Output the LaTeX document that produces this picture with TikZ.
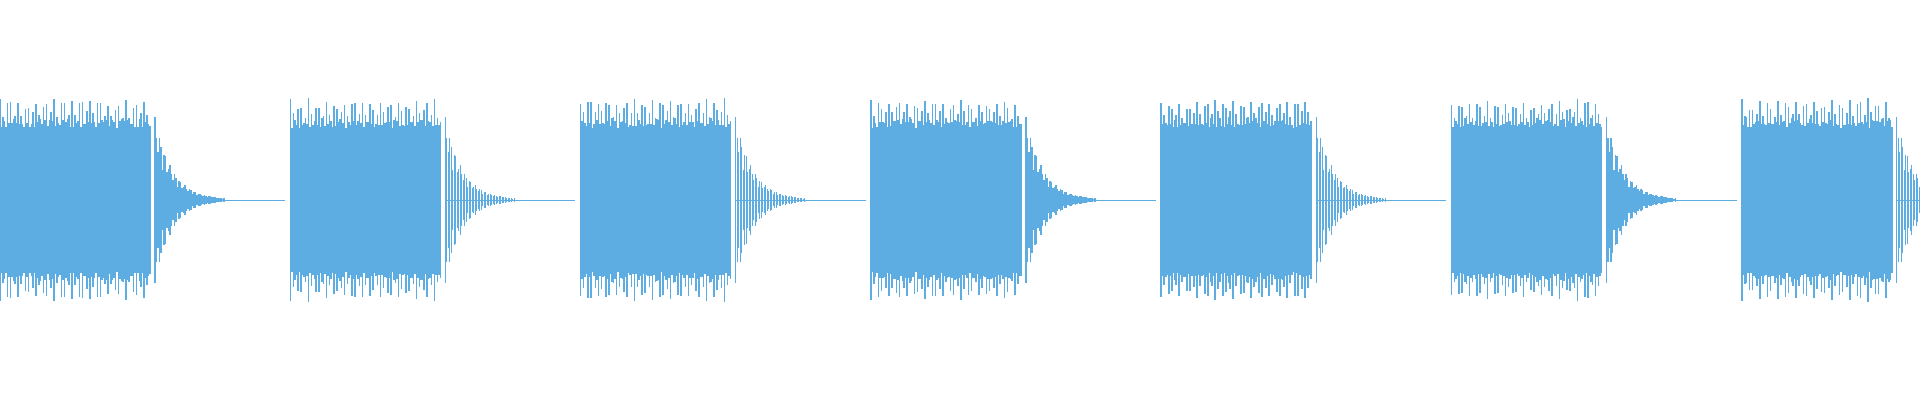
\documentclass[tikz,border=0pt]{standalone}
\definecolor{wavec}{RGB}{93,173,226}
\tikzset{wave/.style={draw=wavec,line width=1.6pt}, tailw/.style={draw=wavec,line width=1.2pt}}
\begin{document}
\begin{tikzpicture}[x=1pt,y=1pt]
\useasboundingbox (0,0) rectangle (1920,400);
\clip (0,0) rectangle (1920,400);
\pgfmathsetseed{7}
\foreach \k in {0,...,6}{
  \pgfmathsetmacro\xo{290.3*\k}
  \foreach \i in {0,1.5,...,150}{
    \pgfmathsetmacro\c{cos(50*\i)}
    \pgfmathsetmacro\h{72+22*\c*\c*\c*\c*\c*\c+8*rnd}
    \draw[wave] (\xo+\i,200-\h) -- (\xo+\i,200+\h);
  }
  \draw[tailw,line width=0.8pt] (\xo+155,200) -- (\xo+285,200);
  \foreach \i in {0,1.5,...,70}{
    \pgfmathsetmacro\h{0.6+82*exp(-\i/17)*(0.55+0.45*abs(cos(36*\i)))}
    \draw[tailw] (\xo+155+\i,200-\h) -- (\xo+155+\i,200+\h);
  }
}
\end{tikzpicture}
\end{document}
